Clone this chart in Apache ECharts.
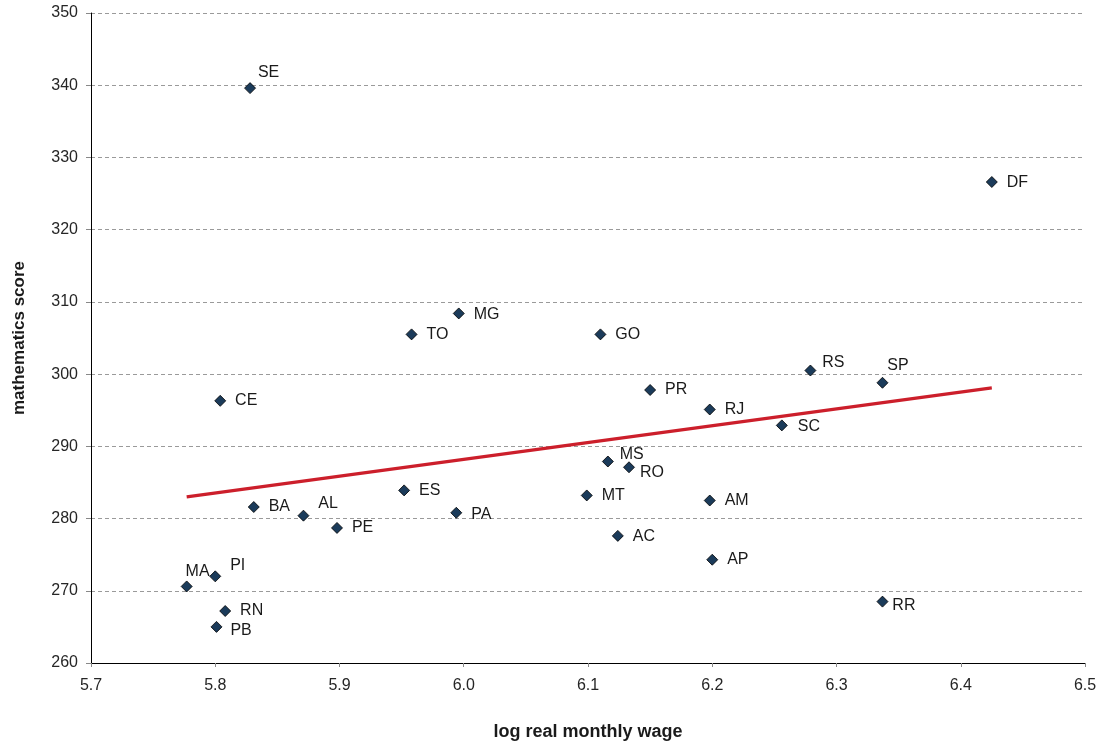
<!DOCTYPE html>
<html>
<head>
<meta charset="utf-8">
<script src="https://cdn.jsdelivr.net/npm/echarts@6/dist/echarts.min.js"></script>
<style>
html,body{margin:0;padding:0;background:#fff;}
#chart{width:1106px;height:746px;}
</style>
</head>
<body>
<div id="chart"></div>
<script>
// ---- data ----
var states = ['SE','DF','MG','TO','GO','RS','SP','PR','CE','RJ','SC','MS','RO','ES','MT','BA','AM','AL','PA','PE','AC','AP','PI','MA','RN','RR','PB'];
var logWage = [5.828,6.425,5.996,5.958,6.110,6.279,6.337,6.150,5.804,6.198,6.256,6.116,6.133,5.952,6.099,5.831,6.198,5.871,5.994,5.898,6.124,6.200,5.800,5.777,5.808,6.337,5.801];
var mathScore = [339.6,326.6,308.4,305.5,305.5,300.5,298.8,297.8,296.3,295.1,292.9,287.9,287.1,283.9,283.2,281.6,282.5,280.4,280.8,278.7,277.6,274.3,272.0,270.6,267.2,268.5,265.0];
var trendX = [5.777, 6.425];
var trendY = [283.0, 298.1];
var xTicks = ['5.7','5.8','5.9','6.0','6.1','6.2','6.3','6.4','6.5'];
var yTicks = ['260','270','280','290','300','310','320','330','340','350'];

// label placement (layout only)
var labelShift = {
  SE:[-7,-16], MA:[-16,-15], PI:[0,-11], PB:[-1,4], AL:[0,-12], PA:[0,2],
  MS:[-3,-7], RO:[-4,5], RS:[-3,-8], SP:[-10,-17], RR:[-5,4], SC:[1,1], AC:[0,1], DF:[0,1], MG:[0,1]
};

var pts = states.map(function(s,i){
  var item = {name:s, value:[logWage[i], mathScore[i]]};
  if (labelShift[s]) item.label = {offset: labelShift[s]};
  return item;
});
var trend = trendX.map(function(x,i){ return [x, trendY[i]]; });

var chart = echarts.init(document.getElementById('chart'), null, {renderer:'canvas'});
var FONT = '"Liberation Sans", Arial, sans-serif';
chart.setOption({
  animation:false,
  backgroundColor:'#ffffff',
  grid:{left:91, right:21, top:13, bottom:83, containLabel:false},
  xAxis:{
    type:'value', min:5.7, max:6.5, interval:0.1,
    name:'log real monthly wage', nameLocation:'middle', nameGap:60,
    nameTextStyle:{fontFamily:FONT, fontSize:18, fontWeight:'bold', color:'#1a1a1a'},
    axisLine:{show:true, onZero:false, lineStyle:{color:'#000', width:1}},
    axisTick:{show:true, length:4, lineStyle:{color:'#888'}},
    axisLabel:{fontFamily:FONT, fontSize:16, color:'#262626', margin:15,
      formatter:function(v){ return xTicks[Math.round((v-5.7)*10)]; }},
    splitLine:{show:false}
  },
  yAxis:{
    type:'value', min:260, max:350, interval:10,
    name:'mathematics score', nameLocation:'middle', nameGap:63, nameRotate:90,
    nameTextStyle:{fontFamily:FONT, fontSize:17, fontWeight:'bold', color:'#1a1a1a'},
    axisLine:{show:true, onZero:false, lineStyle:{color:'#000', width:1}},
    axisTick:{show:true, length:5, lineStyle:{color:'#888'}},
    axisLabel:{fontFamily:FONT, fontSize:16, color:'#262626', margin:13,
      formatter:function(v){ return yTicks[Math.round((v-260)/10)]; }},
    splitLine:{show:true, lineStyle:{color:'#9a9a9a', type:[4,3], width:1}}
  },
  series:[
    {
      type:'line', data:trend, showSymbol:false, symbol:'none', z:3,
      lineStyle:{color:'#cc1f2b', width:3.2}, silent:true
    },
    {
      type:'scatter', data:pts, symbol:'diamond', symbolSize:11, z:4,
      itemStyle:{color:'#1b3b5a', opacity:1, borderColor:'#000', borderWidth:0.8},
      label:{show:true, position:'right', distance:9, formatter:'{b}',
        fontFamily:FONT, fontSize:16, color:'#1a1a1a'}
    }
  ]
});
</script>
</body>
</html>
